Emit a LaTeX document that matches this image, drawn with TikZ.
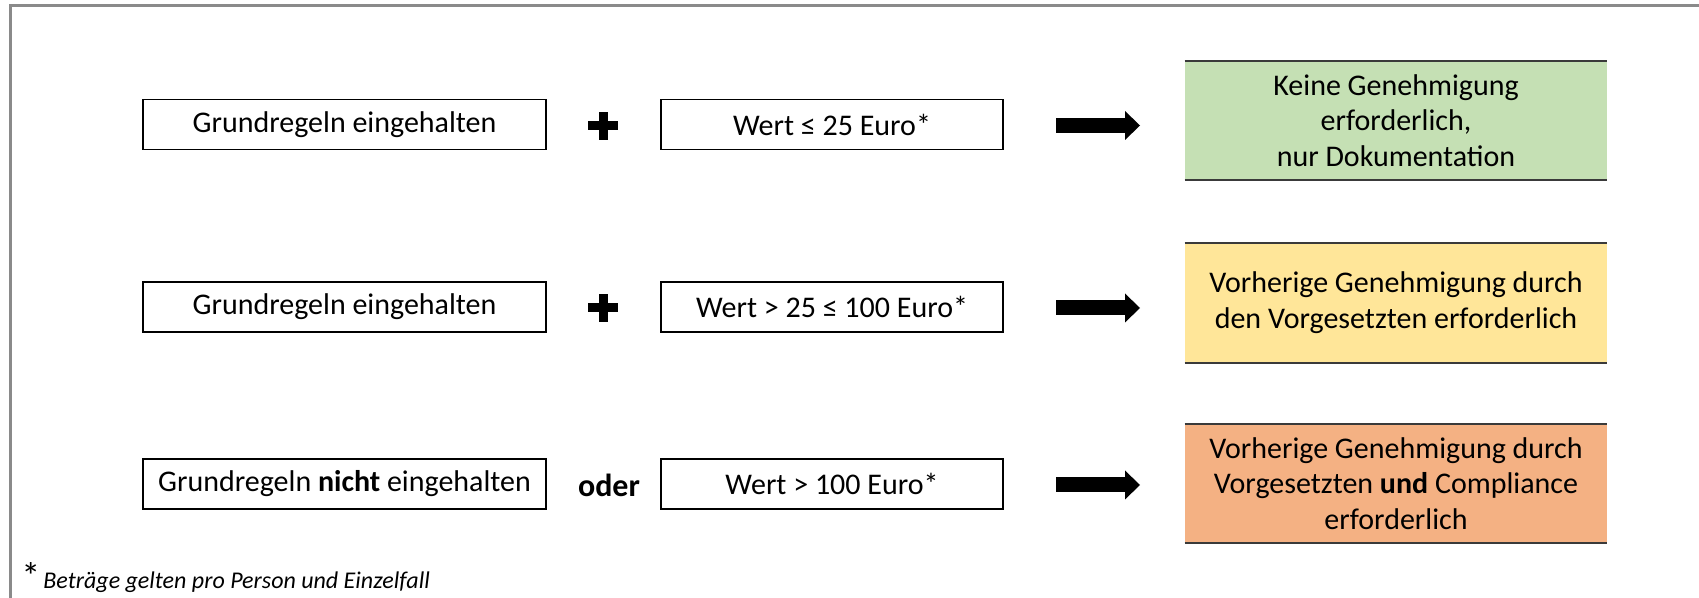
\documentclass[tikz,border=0pt]{standalone}
\usepackage{fontspec}
\setmainfont{Carlito}
\usetikzlibrary{arrows.meta}
\definecolor{cgreen}{HTML}{C5E0B4}
\definecolor{cyellow}{HTML}{FFE699}
\definecolor{corange}{HTML}{F4B183}
\definecolor{framecol}{HTML}{8A8A8A}
\definecolor{rulecol}{HTML}{3A3A3A}
\begin{document}
\begin{tikzpicture}[x=0.5pt,y=-0.5pt,
  txt/.style={font=\fontsize{15}{17.9}\selectfont},
  condA/.style={txt, draw=black, line width=0.75pt, minimum width=201.5pt, minimum height=25pt, inner sep=0pt},
  condB/.style={txt, draw=black, line width=0.75pt, minimum width=171pt, minimum height=25pt, inner sep=0pt},
  result/.style={txt, minimum width=211pt, minimum height=59.5pt, inner sep=0pt, align=center},
  edgeline/.style={draw=rulecol, line width=1pt},
  oderop/.style={font=\fontsize{16}{18}\bfseries\selectfont, inner sep=0pt},
  bigarrow/.style={line width=7.5pt, -{Triangle[length=7.5pt 0 0, width=14.5pt 0 0, line width=0pt]}},
  plusbar/.style={fill=black}
]
\useasboundingbox (0,0) rectangle (1699,598);
\draw[framecol, line width=1.5pt] (10,598) -- (10,6) -- (1699,6);

% row 1
\node[condA] (a1) at (344.5,124.5) {Grundregeln eingehalten};
\coordinate (p1) at (603,126);
\fill[plusbar] ([shift={(-15,-4.5)}]p1) rectangle ([shift={(15,4.5)}]p1);
\fill[plusbar] ([shift={(-4.5,-14)}]p1) rectangle ([shift={(4.5,14)}]p1);
\node[condB] (b1) at (832,124.5) {Wert ≤ 25 Euro*};
\node[result, fill=cgreen] (c1) at (1396,120.5) {Keine Genehmigung\\erforderlich,\\nur Dokumentation};
\draw[edgeline] (c1.north west) -- (c1.north east);
\draw[edgeline] (c1.south west) -- (c1.south east);
\coordinate (s1) at (1056,125.5);
\coordinate (e1) at (1140,125.5);
\draw[bigarrow] (s1) -- (e1);

% row 2
\node[condA] (a2) at (344.5,307) {Grundregeln eingehalten};
\coordinate (p2) at (603,308);
\fill[plusbar] ([shift={(-15,-4.5)}]p2) rectangle ([shift={(15,4.5)}]p2);
\fill[plusbar] ([shift={(-4.5,-14)}]p2) rectangle ([shift={(4.5,14)}]p2);
\node[condB] (b2) at (832,307) {Wert > 25 ≤ 100 Euro*};
\node[result, fill=cyellow] (c2) at (1396,303) {Vorherige Genehmigung durch\\den Vorgesetzten erforderlich};
\draw[edgeline] (c2.north west) -- (c2.north east);
\draw[edgeline] (c2.south west) -- (c2.south east);
\coordinate (s2) at (1056,308);
\coordinate (e2) at (1140,308);
\draw[bigarrow] (s2) -- (e2);

% row 3
\node[condA] (a3) at (344.5,484) {Grundregeln \textbf{nicht} eingehalten};
\node[oderop] (o3) at (609,485) {oder};
\node[condB] (b3) at (832,484) {Wert > 100 Euro*};
\node[result, fill=corange] (c3) at (1396,483.5) {Vorherige Genehmigung durch\\Vorgesetzten \textbf{und} Compliance\\erforderlich};
\draw[edgeline] (c3.north west) -- (c3.north east);
\draw[edgeline] (c3.south west) -- (c3.south east);
\coordinate (s3) at (1056,485);
\coordinate (e3) at (1140,485);
\draw[bigarrow] (s3) -- (e3);

% footnote
\node[anchor=base west, inner sep=0pt, font=\fontsize{19}{20}\selectfont] (star) at (21,590) {*};
\node[anchor=base west, inner sep=0pt, font=\fontsize{12}{14}\itshape\selectfont] (fn) at (43,589) {Beträge gelten pro Person und Einzelfall};
\end{tikzpicture}
\end{document}
